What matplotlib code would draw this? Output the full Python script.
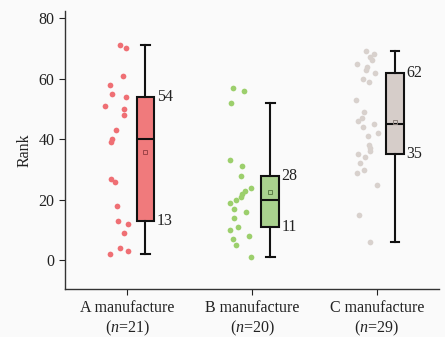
#! /usr/bin/env python3

import matplotlib
matplotlib.use('Agg')
import matplotlib.pyplot as plt
import numpy as np

plt.rcParams['font.family'] = ['Liberation Serif', 'DejaVu Serif']
plt.rcParams['mathtext.fontset'] = 'custom'
plt.rcParams['mathtext.rm'] = 'Liberation Serif'
plt.rcParams['mathtext.it'] = 'Liberation Serif:italic'

# ranks
groups = ['A manufacture', 'B manufacture', 'C manufacture']
rank_a = [71, 70, 61, 58, 55, 54, 51, 50, 48, 43, 40, 39, 27, 26, 18, 13, 12, 9, 4, 3, 2]
rank_b = [57, 56, 52, 33, 31, 28, 24, 23, 22, 21, 20, 19, 17, 16, 14, 11, 10, 8, 7, 5, 1]
rank_c = [69, 68, 67, 66, 65, 64, 63, 62, 60, 59, 53, 49, 47, 46, 45, 44, 42, 41,
          38, 37, 36, 35, 34, 32, 30, 29, 25, 15, 6]
n_labels = [21, 20, 29]

box_colors = ['#F07A7C', '#A9D18E', '#D6CDC9']
dot_colors = ['#EF6F74', '#9CCF6C', '#D8D1CD']
mean_colors = ['#9E4448', '#5E7F48', '#8A7F7A']

data = [rank_a, rank_b, rank_c]

fig = plt.figure(figsize=(4.45, 3.37), dpi=100, facecolor='#FAFAFA')
ax = fig.add_axes([0.146, 0.142, 0.841, 0.825])
ax.set_facecolor('#FAFAFA')

rng = np.random.default_rng(7)
box_shift, box_w = 0.145, 0.14

for i, vals in enumerate(data):
    vals = np.array(vals)
    # jittered dots to the left of the tick
    xs = i - 0.085 + rng.uniform(-0.095, 0.095, len(vals))
    ax.scatter(xs, vals, s=17, color=dot_colors[i], linewidths=0, zorder=2)

    bp = ax.boxplot(vals, positions=[i + box_shift], widths=box_w,
                    patch_artist=True, showfliers=False, showmeans=True,
                    manage_ticks=False,
                    boxprops=dict(facecolor=box_colors[i], edgecolor='#111111', linewidth=1.5),
                    medianprops=dict(color='#111111', linewidth=1.5),
                    whiskerprops=dict(color='#111111', linewidth=1.5),
                    capprops=dict(color='#111111', linewidth=1.5),
                    meanprops=dict(marker='s', markersize=3, markerfacecolor='none',
                                   markeredgecolor=mean_colors[i], markeredgewidth=0.7))
    q1, q3 = np.percentile(vals, [25, 75])
    for q in (q1, q3):
        ax.annotate('%d' % round(q), xy=(i + box_shift + box_w / 2, q),
                    xytext=(2, 0), textcoords='offset points',
                    ha='left', va='center', fontsize=11.5, color='#222222')

ax.set_xlim(-0.5, 2.5)
ax.set_ylim(-9.5, 82.3)
ax.set_yticks([0, 20, 40, 60, 80])
ax.set_xticks(range(len(groups)))
ax.set_xticklabels(['%s\n($n$=%d)' % (g, n) for g, n in zip(groups, n_labels)])
ax.set_ylabel('Rank', fontsize=11.5, color='#222222')

for s in ['top', 'right']:
    ax.spines[s].set_visible(False)
for s in ['left', 'bottom']:
    ax.spines[s].set_color('#333333')
    ax.spines[s].set_linewidth(1.0)
ax.tick_params(labelsize=11.5, colors='#222222', length=4, direction='out')

plt.savefig('out.png', dpi=100, facecolor=fig.get_facecolor())
